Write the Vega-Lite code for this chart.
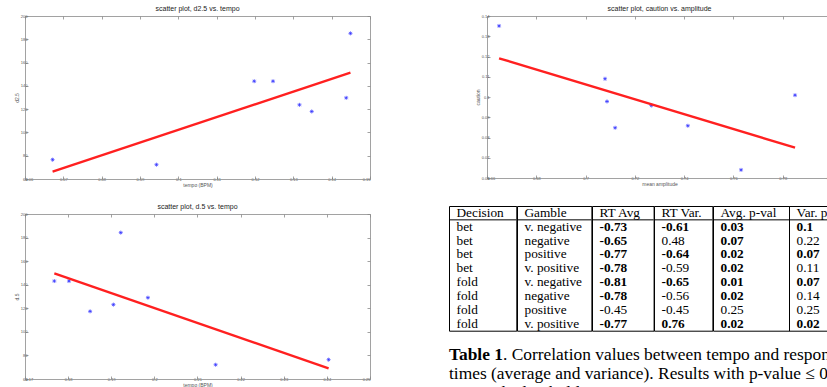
{
  "$schema": "https://vega.github.io/schema/vega-lite/v6.json",
  "background": "white",
  "padding": {"left": 14, "top": 5, "right": 0, "bottom": 0},
  "config": {
    "view": {"stroke": null},
    "axis": {"grid": false, "labelFont": "Liberation Sans", "labelFontSize": 4, "labelColor": "#555", "titleFont": "Liberation Sans", "titleFontSize": 5, "titleFontWeight": "normal", "titleColor": "#555", "domainColor": "#8a8a8a", "tickColor": "#8a8a8a", "domainWidth": 0.8, "tickWidth": 0.8, "tickSize": -3, "labelPadding": 1, "titlePadding": 1},
    "title": {"font": "Liberation Sans", "fontSize": 7, "fontWeight": "normal", "color": "#222", "offset": 2}
  },
  "datasets": {
    "d25": [
      {"tempo": 0.0672, "d25": 76.6}, {"tempo": 0.0943, "d25": 72.3}, {"tempo": 0.1198, "d25": 144},
      {"tempo": 0.1247, "d25": 144}, {"tempo": 0.1316, "d25": 123.7}, {"tempo": 0.1348, "d25": 118},
      {"tempo": 0.1438, "d25": 129.7}, {"tempo": 0.1449, "d25": 185.1}
    ],
    "d25fit": [{"tempo": 0.0672, "d25": 66.3}, {"tempo": 0.1449, "d25": 151.4}],
    "caution": [
      {"amp": 0.6649, "caution": 0.1351}, {"amp": 0.7079, "caution": 0.109}, {"amp": 0.7087, "caution": 0.0978},
      {"amp": 0.712, "caution": 0.0848}, {"amp": 0.7267, "caution": 0.0958}, {"amp": 0.7415, "caution": 0.0858},
      {"amp": 0.7631, "caution": 0.064}, {"amp": 0.785, "caution": 0.1009}
    ],
    "cautionfit": [{"amp": 0.6649, "caution": 0.1191}, {"amp": 0.785, "caution": 0.075}],
    "d5": [
      {"tempo": 0.1768, "d5": 143.1}, {"tempo": 0.1802, "d5": 143.1}, {"tempo": 0.1851, "d5": 117.4},
      {"tempo": 0.1905, "d5": 123.1}, {"tempo": 0.1922, "d5": 184.2}, {"tempo": 0.1985, "d5": 129.0},
      {"tempo": 0.2142, "d5": 72.1}, {"tempo": 0.2404, "d5": 76.4}
    ],
    "d5fit": [{"tempo": 0.1768, "d5": 149.6}, {"tempo": 0.2404, "d5": 69.0}],
    "tbl": [
      {"row": 0, "Decision": "Decision", "Gamble": "Gamble", "RTAvg": "RT Avg", "RTVar": "RT Var.", "AvgP": "Avg. p-val", "VarP": "Var. p-val"},
      {"row": 1, "Decision": "bet", "Gamble": "v. negative", "RTAvg": "-0.73", "RTVar": "-0.61", "AvgP": "0.03", "VarP": "0.1"},
      {"row": 2, "Decision": "bet", "Gamble": "negative", "RTAvg": "-0.65", "RTVar": "0.48", "AvgP": "0.07", "VarP": "0.22"},
      {"row": 3, "Decision": "bet", "Gamble": "positive", "RTAvg": "-0.77", "RTVar": "-0.64", "AvgP": "0.02", "VarP": "0.07"},
      {"row": 4, "Decision": "bet", "Gamble": "v. positive", "RTAvg": "-0.78", "RTVar": "-0.59", "AvgP": "0.02", "VarP": "0.11"},
      {"row": 5, "Decision": "fold", "Gamble": "v. negative", "RTAvg": "-0.81", "RTVar": "-0.65", "AvgP": "0.01", "VarP": "0.07"},
      {"row": 6, "Decision": "fold", "Gamble": "negative", "RTAvg": "-0.78", "RTVar": "-0.56", "AvgP": "0.02", "VarP": "0.14"},
      {"row": 7, "Decision": "fold", "Gamble": "positive", "RTAvg": "-0.45", "RTVar": "-0.45", "AvgP": "0.25", "VarP": "0.25"},
      {"row": 8, "Decision": "fold", "Gamble": "v. positive", "RTAvg": "-0.77", "RTVar": "0.76", "AvgP": "0.02", "VarP": "0.02"}
    ],
    "caption": [
      {"line": 1, "lead": "Table 1", "text": ". Correlation values between tempo and response"},
      {"line": 2, "lead": "", "text": "times (average and variance). Results with p-value ≤ 0.1"},
      {"line": 3, "lead": "", "text": "are marked in bold."}
    ]
  },
  "spacing": 16,
  "vconcat": [
    {
      "spacing": 104,
      "hconcat": [
        {
          "width": 345, "height": 163,
          "title": "scatter plot, d2.5 vs. tempo",
          "resolve": {"axis": {"x": "independent", "y": "independent"}},
          "layer": [
            {
              "data": {"name": "d25"},
              "mark": {"type": "point", "shape": "M-1,0L1,0M0,-1L0,1M-0.7,-0.7L0.7,0.7M-0.7,0.7L0.7,-0.7", "size": 16, "filled": false, "color": "#3333ff", "strokeWidth": 0.7, "opacity": 1},
              "encoding": {
                "x": {"field": "tempo", "type": "quantitative", "scale": {"domain": [0.06, 0.15], "nice": false, "zero": false}, "axis": {"orient": "bottom", "title": "tempo (BPM)", "values": [0.06, 0.07, 0.08, 0.09, 0.1, 0.11, 0.12, 0.13, 0.14, 0.15], "format": "~g"}},
                "y": {"field": "d25", "type": "quantitative", "scale": {"domain": [60, 200], "nice": false, "zero": false}, "axis": {"orient": "left", "title": "d2.5", "values": [60, 80, 100, 120, 140, 160, 180, 200]}}
              }
            },
            {
              "data": {"name": "d25fit"},
              "mark": {"type": "line", "color": "#ff2020", "strokeWidth": 2.4},
              "encoding": {
                "x": {"field": "tempo", "type": "quantitative", "axis": {"orient": "top", "labels": false, "title": null, "values": [0.06, 0.07, 0.08, 0.09, 0.1, 0.11, 0.12, 0.13, 0.14, 0.15]}},
                "y": {"field": "d25", "type": "quantitative", "axis": {"orient": "right", "labels": false, "title": null, "values": [60, 80, 100, 120, 140, 160, 180, 200]}}
              }
            }
          ]
        },
        {
          "width": 345, "height": 162,
          "title": "scatter plot, caution vs. amplitude",
          "resolve": {"axis": {"x": "independent", "y": "independent"}},
          "layer": [
            {
              "data": {"name": "caution"},
              "mark": {"type": "point", "shape": "M-1,0L1,0M0,-1L0,1M-0.7,-0.7L0.7,0.7M-0.7,0.7L0.7,-0.7", "size": 16, "filled": false, "color": "#3333ff", "strokeWidth": 0.7, "opacity": 1},
              "encoding": {
                "x": {"field": "amp", "type": "quantitative", "scale": {"domain": [0.66, 0.8], "nice": false, "zero": false}, "axis": {"orient": "bottom", "title": "mean amplitude", "values": [0.66, 0.68, 0.7, 0.72, 0.74, 0.76, 0.78, 0.8], "format": "~g"}},
                "y": {"field": "caution", "type": "quantitative", "scale": {"domain": [0.06, 0.14], "nice": false, "zero": false}, "axis": {"orient": "left", "title": "caution", "values": [0.06, 0.07, 0.08, 0.09, 0.1, 0.11, 0.12, 0.13, 0.14], "format": "~g"}}
              }
            },
            {
              "data": {"name": "cautionfit"},
              "mark": {"type": "line", "color": "#ff2020", "strokeWidth": 2.4},
              "encoding": {
                "x": {"field": "amp", "type": "quantitative", "axis": {"orient": "top", "labels": false, "title": null, "values": [0.66, 0.68, 0.7, 0.72, 0.74, 0.76, 0.78, 0.8]}},
                "y": {"field": "caution", "type": "quantitative", "axis": {"orient": "right", "labels": false, "title": null, "values": [0.06, 0.07, 0.08, 0.09, 0.1, 0.11, 0.12, 0.13, 0.14]}}
              }
            }
          ]
        }
      ]
    },
    {
      "spacing": 77,
      "hconcat": [
        {
          "spacing": -4,
          "vconcat": [
            {
              "width": 345, "height": 1,
              "data": {"values": []},
              "mark": {"type": "text"},
              "encoding": {"text": {"value": ""}}
            },
            {
              "width": 345, "height": 165,
              "title": "scatter plot, d.5 vs. tempo",
              "resolve": {"axis": {"x": "independent", "y": "independent"}},
              "layer": [
                {
                  "data": {"name": "d5"},
                  "mark": {"type": "point", "shape": "M-1,0L1,0M0,-1L0,1M-0.7,-0.7L0.7,0.7M-0.7,0.7L0.7,-0.7", "size": 16, "filled": false, "color": "#3333ff", "strokeWidth": 0.7, "opacity": 1},
                  "encoding": {
                    "x": {"field": "tempo", "type": "quantitative", "scale": {"domain": [0.17, 0.25], "nice": false, "zero": false}, "axis": {"orient": "bottom", "title": "tempo (BPM)", "values": [0.17, 0.18, 0.19, 0.2, 0.21, 0.22, 0.23, 0.24, 0.25], "format": "~g"}},
                    "y": {"field": "d5", "type": "quantitative", "scale": {"domain": [60, 200], "nice": false, "zero": false}, "axis": {"orient": "left", "title": "d.5", "values": [60, 80, 100, 120, 140, 160, 180, 200]}}
                  }
                },
                {
                  "data": {"name": "d5fit"},
                  "mark": {"type": "line", "color": "#ff2020", "strokeWidth": 2.4},
                  "encoding": {
                    "x": {"field": "tempo", "type": "quantitative", "axis": {"orient": "top", "labels": false, "title": null, "values": [0.17, 0.18, 0.19, 0.2, 0.21, 0.22, 0.23, 0.24, 0.25]}},
                    "y": {"field": "d5", "type": "quantitative", "axis": {"orient": "right", "labels": false, "title": null, "values": [60, 80, 100, 120, 140, 160, 180, 200]}}
                  }
                }
              ]
            }
          ]
        },
        {
          "spacing": 13,
          "vconcat": [
            {
              "spacing": 0,
              "bounds": "flush",
              "hconcat": [
                {
                  "width": 67.3, "height": 124.7,
                  "view": {"stroke": "black", "strokeWidth": 1},
                  "data": {"name": "tbl"},
                  "encoding": {"y": {"field": "row", "type": "ordinal", "scale": {"domain": [0, 1, 2, 3, 4, 5, 6, 7, 8], "paddingInner": 0, "paddingOuter": 0}, "axis": null}},
                  "layer": [
                    {"mark": {"type": "text", "align": "left", "baseline": "middle", "font": "Liberation Serif", "fontSize": 13.3, "color": "black"}, "encoding": {"x": {"value": 7.5}, "text": {"field": "Decision", "type": "nominal"}}},
                    {"transform": [{"filter": "datum.row == 0"}], "mark": {"type": "rule", "color": "black", "strokeWidth": 1}, "encoding": {"y": {"field": "row", "type": "ordinal", "bandPosition": 1}}}
                  ]
                },
                {
                  "width": 74.4, "height": 124.7,
                  "view": {"stroke": "black", "strokeWidth": 1},
                  "data": {"name": "tbl"},
                  "encoding": {"y": {"field": "row", "type": "ordinal", "scale": {"domain": [0, 1, 2, 3, 4, 5, 6, 7, 8], "paddingInner": 0, "paddingOuter": 0}, "axis": null}},
                  "layer": [
                    {"mark": {"type": "text", "align": "left", "baseline": "middle", "font": "Liberation Serif", "fontSize": 13.3, "color": "black"}, "encoding": {"x": {"value": 7.5}, "text": {"field": "Gamble", "type": "nominal"}}},
                    {"transform": [{"filter": "datum.row == 0"}], "mark": {"type": "rule", "color": "black", "strokeWidth": 1}, "encoding": {"y": {"field": "row", "type": "ordinal", "bandPosition": 1}}}
                  ]
                },
                {
                  "width": 61.6, "height": 124.7,
                  "view": {"stroke": "black", "strokeWidth": 1},
                  "data": {"name": "tbl"},
                  "encoding": {"y": {"field": "row", "type": "ordinal", "scale": {"domain": [0, 1, 2, 3, 4, 5, 6, 7, 8], "paddingInner": 0, "paddingOuter": 0}, "axis": null}},
                  "layer": [
                    {"transform": [{"filter": "!(toNumber(datum.AvgP) <= 0.1)"}], "mark": {"type": "text", "align": "left", "baseline": "middle", "font": "Liberation Serif", "fontSize": 13.3, "color": "black"}, "encoding": {"x": {"value": 7.5}, "text": {"field": "RTAvg", "type": "nominal"}}},
                    {"transform": [{"filter": "toNumber(datum.AvgP) <= 0.1"}], "mark": {"type": "text", "align": "left", "baseline": "middle", "font": "Liberation Serif", "fontSize": 13.3, "fontWeight": "bold", "color": "black"}, "encoding": {"x": {"value": 7.5}, "text": {"field": "RTAvg", "type": "nominal"}}},
                    {"transform": [{"filter": "datum.row == 0"}], "mark": {"type": "rule", "color": "black", "strokeWidth": 1}, "encoding": {"y": {"field": "row", "type": "ordinal", "bandPosition": 1}}}
                  ]
                },
                {
                  "width": 58.4, "height": 124.7,
                  "view": {"stroke": "black", "strokeWidth": 1},
                  "data": {"name": "tbl"},
                  "encoding": {"y": {"field": "row", "type": "ordinal", "scale": {"domain": [0, 1, 2, 3, 4, 5, 6, 7, 8], "paddingInner": 0, "paddingOuter": 0}, "axis": null}},
                  "layer": [
                    {"transform": [{"filter": "!(toNumber(datum.VarP) <= 0.1)"}], "mark": {"type": "text", "align": "left", "baseline": "middle", "font": "Liberation Serif", "fontSize": 13.3, "color": "black"}, "encoding": {"x": {"value": 7.5}, "text": {"field": "RTVar", "type": "nominal"}}},
                    {"transform": [{"filter": "toNumber(datum.VarP) <= 0.1"}], "mark": {"type": "text", "align": "left", "baseline": "middle", "font": "Liberation Serif", "fontSize": 13.3, "fontWeight": "bold", "color": "black"}, "encoding": {"x": {"value": 7.5}, "text": {"field": "RTVar", "type": "nominal"}}},
                    {"transform": [{"filter": "datum.row == 0"}], "mark": {"type": "rule", "color": "black", "strokeWidth": 1}, "encoding": {"y": {"field": "row", "type": "ordinal", "bandPosition": 1}}}
                  ]
                },
                {
                  "width": 76, "height": 124.7,
                  "view": {"stroke": "black", "strokeWidth": 1},
                  "data": {"name": "tbl"},
                  "encoding": {"y": {"field": "row", "type": "ordinal", "scale": {"domain": [0, 1, 2, 3, 4, 5, 6, 7, 8], "paddingInner": 0, "paddingOuter": 0}, "axis": null}},
                  "layer": [
                    {"transform": [{"filter": "!(toNumber(datum.AvgP) <= 0.1)"}], "mark": {"type": "text", "align": "left", "baseline": "middle", "font": "Liberation Serif", "fontSize": 13.3, "color": "black"}, "encoding": {"x": {"value": 7.5}, "text": {"field": "AvgP", "type": "nominal"}}},
                    {"transform": [{"filter": "toNumber(datum.AvgP) <= 0.1"}], "mark": {"type": "text", "align": "left", "baseline": "middle", "font": "Liberation Serif", "fontSize": 13.3, "fontWeight": "bold", "color": "black"}, "encoding": {"x": {"value": 7.5}, "text": {"field": "AvgP", "type": "nominal"}}},
                    {"transform": [{"filter": "datum.row == 0"}], "mark": {"type": "rule", "color": "black", "strokeWidth": 1}, "encoding": {"y": {"field": "row", "type": "ordinal", "bandPosition": 1}}}
                  ]
                },
                {
                  "width": 76, "height": 124.7,
                  "view": {"stroke": "black", "strokeWidth": 1},
                  "data": {"name": "tbl"},
                  "encoding": {"y": {"field": "row", "type": "ordinal", "scale": {"domain": [0, 1, 2, 3, 4, 5, 6, 7, 8], "paddingInner": 0, "paddingOuter": 0}, "axis": null}},
                  "layer": [
                    {"transform": [{"filter": "!(toNumber(datum.VarP) <= 0.1)"}], "mark": {"type": "text", "align": "left", "baseline": "middle", "font": "Liberation Serif", "fontSize": 13.3, "color": "black"}, "encoding": {"x": {"value": 7.5}, "text": {"field": "VarP", "type": "nominal"}}},
                    {"transform": [{"filter": "toNumber(datum.VarP) <= 0.1"}], "mark": {"type": "text", "align": "left", "baseline": "middle", "font": "Liberation Serif", "fontSize": 13.3, "fontWeight": "bold", "color": "black"}, "encoding": {"x": {"value": 7.5}, "text": {"field": "VarP", "type": "nominal"}}},
                    {"transform": [{"filter": "datum.row == 0"}], "mark": {"type": "rule", "color": "black", "strokeWidth": 1}, "encoding": {"y": {"field": "row", "type": "ordinal", "bandPosition": 1}}}
                  ]
                }
              ]
            },
            {
              "width": 425, "height": 57.9,
              "data": {"name": "caption"},
              "encoding": {"y": {"field": "line", "type": "ordinal", "scale": {"domain": [1, 2, 3], "paddingInner": 0, "paddingOuter": 0}, "axis": null}},
              "layer": [
                {"transform": [{"filter": "datum.line == 1"}], "mark": {"type": "text", "align": "left", "baseline": "middle", "font": "Liberation Serif", "fontSize": 17.4, "fontWeight": "bold", "color": "black"}, "encoding": {"x": {"value": 0}, "text": {"field": "lead", "type": "nominal"}}},
                {"transform": [{"filter": "datum.line == 1"}], "mark": {"type": "text", "align": "left", "baseline": "middle", "font": "Liberation Serif", "fontSize": 17.4, "color": "black", "dx": 54}, "encoding": {"x": {"value": 0}, "text": {"field": "text", "type": "nominal"}}},
                {"transform": [{"filter": "datum.line > 1"}], "mark": {"type": "text", "align": "left", "baseline": "middle", "font": "Liberation Serif", "fontSize": 17.4, "color": "black"}, "encoding": {"x": {"value": 0}, "text": {"field": "text", "type": "nominal"}}}
              ]
            }
          ]
        }
      ]
    }
  ]
}
